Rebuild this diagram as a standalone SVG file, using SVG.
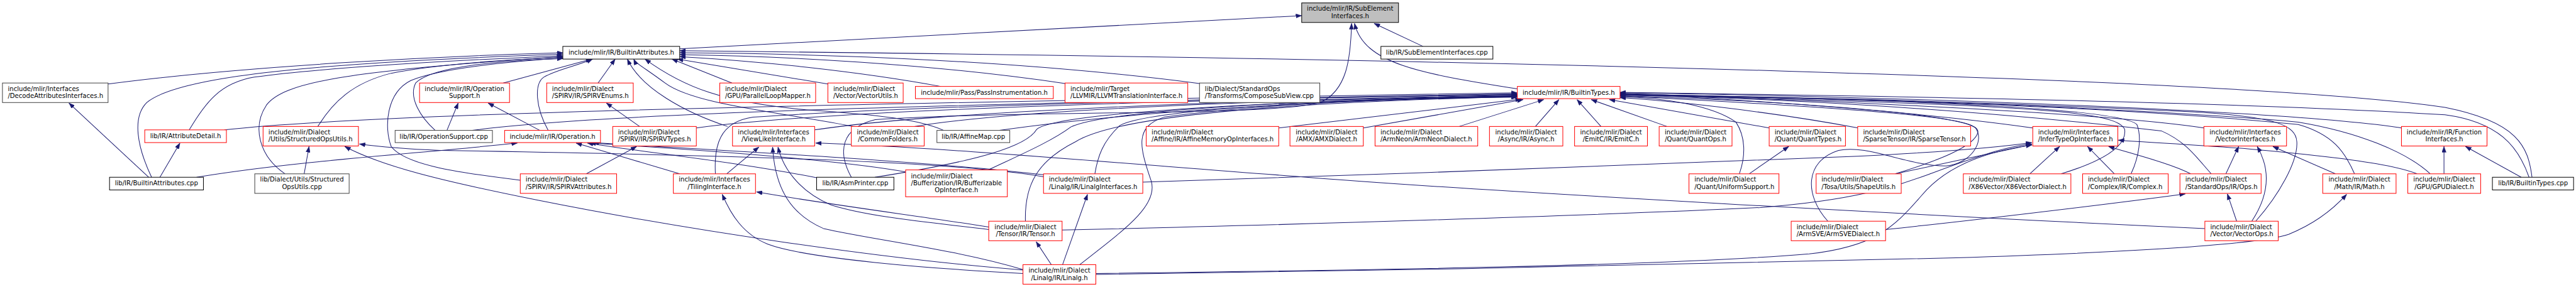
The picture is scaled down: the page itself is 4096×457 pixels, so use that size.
<svg xmlns="http://www.w3.org/2000/svg" width="4096" height="457" viewBox="0 0 4096 457">
<style>
.r{fill:#fff;stroke:#ff0000;stroke-width:1.3}
.b{fill:#fff;stroke:#000;stroke-width:1.3}
.g{fill:#fff;stroke:#404040;stroke-width:1.3}
.gr{fill:#bfbfbf;stroke:#000;stroke-width:1.3}
text{font-family:"DejaVu Sans","Liberation Sans",sans-serif;font-size:13px;fill:#000}
.c{text-anchor:middle}
#edges path{fill:none;stroke:#191970;stroke-width:1.3;marker-end:url(#a)}
</style>
<defs>
<marker id="a" viewBox="0 0 12 9" refX="12" refY="4.5" markerWidth="12" markerHeight="9" orient="auto" markerUnits="userSpaceOnUse"><path d="M0,0 L12,4.5 L0,9 z" fill="#191970" stroke="#191970" stroke-width="0.5"/></marker>
</defs>
<rect width="4096" height="457" fill="#fff"/>
<g transform="scale(0.77753)">
<g id="edges">
<path d="M1390,100 L2662,32"/>
<path d="M3103,182 C2900,150 2790,130 2770,48"/>
<path d="M2910,95 L2810,48"/>
<path d="M1741,363 C1712,310 1720,262 1790,245 C2100,225 2600,238 2700,210 C2755,185 2762,120 2764,48"/>
<path d="M221,172 C500,135 900,115 1151,108"/>
<path d="M310,363 C280,300 270,240 300,210 C360,160 600,130 1151,111"/>
<path d="M387,266 C420,210 450,170 520,158 C650,140 900,125 1151,114"/>
<path d="M583,356 C530,320 515,260 545,215 C580,170 700,145 1151,116"/>
<path d="M650,259 C680,210 720,170 800,150 C900,130 1050,122 1151,117"/>
<path d="M1064,369 C950,355 830,340 800,300 C785,260 790,190 840,165 C900,140 1050,125 1151,119"/>
<path d="M890,267 C860,240 835,200 850,170 C880,140 1000,125 1151,120"/>
<path d="M1029,170 L1210,121"/>
<path d="M1121,267 C1095,220 1092,172 1112,158 C1140,142 1180,135 1212,121"/>
<path d="M1223,170 L1258,121"/>
<path d="M1488,259 C1400,230 1310,180 1283,121"/>
<path d="M1745,259 C1600,230 1420,215 1360,170 C1320,140 1300,130 1296,121"/>
<path d="M1930,267 C1880,245 1800,235 1650,225 C1480,210 1400,180 1319,121"/>
<path d="M1497,170 L1374,121"/>
<path d="M1693,172 L1385,121"/>
<path d="M1924,177 C1750,145 1550,125 1390,116"/>
<path d="M2178,171 C1900,130 1600,115 1390,112"/>
<path d="M2453,171 C2100,125 1700,110 1390,108"/>
<path d="M5178,363 C5170,300 5150,250 5000,220 C4600,160 3000,120 1390,104"/>
<path d="M459,266 C700,240 1200,220 3103,190"/>
<path d="M966,267 C1200,235 1800,215 3103,192"/>
<path d="M1424,262 C1700,225 2400,205 3103,193"/>
<path d="M1463,356 C1460,300 1470,250 1540,240 C1900,215 2600,200 3103,194"/>
<path d="M1666,266 C1900,230 2500,205 3103,195"/>
<path d="M1870,259 C2100,222 2600,205 3103,196"/>
<path d="M2044,267 C2300,230 2700,205 3103,196"/>
<path d="M1789,363 C2000,330 2100,300 2120,265 C2150,235 2500,210 3103,197"/>
<path d="M2021,348 C2080,320 2150,290 2190,260 C2250,230 2600,205 3103,197"/>
<path d="M2097,453 C2095,380 2120,330 2200,290 C2280,240 2600,210 3103,198"/>
<path d="M2239,356 C2245,320 2255,290 2290,257 C2350,225 2700,205 3103,198"/>
<path d="M2208,542 C2300,470 2370,420 2354,370 C2330,300 2320,260 2380,240 C2600,210 2900,200 3103,199"/>
<path d="M2615,262 L3111,203"/>
<path d="M2788,262 L3115,204"/>
<path d="M2984,259 L3157,204"/>
<path d="M3140,259 L3188,204"/>
<path d="M3274,259 L3225,204"/>
<path d="M3409,259 L3254,204"/>
<path d="M3618,262 L3291,204"/>
<path d="M3800,262 C3600,225 3400,205 3313,200"/>
<path d="M4157,262 C3900,225 3500,200 3313,192"/>
<path d="M4507,262 C4300,230 3700,205 3313,191"/>
<path d="M4911,262 C4700,230 4000,200 3313,190"/>
<path d="M5172,363 C5150,300 5110,250 5000,235 C4500,205 3700,195 3313,189"/>
<path d="M4970,356 C4920,310 4820,270 4700,250 C4300,215 3700,200 3313,193"/>
<path d="M4815,356 C4795,310 4770,275 4700,255 C4300,215 3700,200 3313,194"/>
<path d="M4522,356 C4490,320 4470,290 4420,268 C4000,220 3600,200 3313,195"/>
<path d="M4613,453 C4660,400 4700,330 4697,290 C4695,255 4650,240 4500,230 C4000,205 3600,198 3313,193"/>
<path d="M4215,356 C4300,330 4350,300 4345,265 C4330,230 4200,215 3313,194"/>
<path d="M4358,356 C4375,320 4380,280 4370,255 C4340,225 4000,205 3313,194"/>
<path d="M3876,356 C3960,330 4040,300 4045,270 C4045,245 3950,230 3313,196"/>
<path d="M3557,356 C3570,320 3570,280 3550,250 C3500,215 3400,200 3313,198"/>
<path d="M3738,453 C3690,400 3690,330 3760,308 C3820,295 3900,340 3980,340 C4030,335 4060,290 4040,262 C4000,230 3600,205 3313,196"/>
<path d="M304,363 L141,211"/>
<path d="M327,363 L368,293"/>
<path d="M402,363 C600,330 850,315 1058,293"/>
<path d="M622,356 L632,300"/>
<path d="M2134,362 C1950,330 1500,318 900,308 C820,305 770,300 735,295"/>
<path d="M2092,553 C1800,530 1400,470 1100,410 C900,370 780,340 705,300"/>
<path d="M914,267 L937,211"/>
<path d="M1104,267 L998,211"/>
<path d="M1308,259 L1240,211"/>
<path d="M1199,356 L1302,300"/>
<path d="M1390,356 L1178,293"/>
<path d="M1670,364 C1500,330 1300,310 1201,293"/>
<path d="M2134,358 C1900,330 1500,310 1213,292"/>
<path d="M1852,352 C1700,325 1400,305 1206,293"/>
<path d="M1486,356 L1552,301"/>
<path d="M2092,552 C1950,510 1780,490 1684,468 C1620,440 1585,390 1580,301"/>
<path d="M2022,470 C1900,455 1780,445 1700,420 C1630,390 1600,340 1591,301"/>
<path d="M4509,468 C4000,445 3000,390 2660,362 C2300,335 1900,300 1668,293"/>
<path d="M2022,465 C1900,445 1700,420 1547,393"/>
<path d="M2092,560 C1900,550 1650,530 1570,500 C1520,480 1495,440 1477,398"/>
<path d="M2150,542 L2119,495"/>
<path d="M2173,542 L2224,398"/>
<path d="M2337,373 C2800,360 3500,330 3800,320 C4000,310 4100,300 4155,292"/>
<path d="M2172,471 C2600,462 3300,440 3600,425 C3800,410 3880,380 3950,355 C4030,325 4100,300 4155,295"/>
<path d="M2241,560 C2800,553 3400,545 3700,520 C3830,505 3870,470 3930,400 C3980,340 4060,310 4155,297"/>
<path d="M3876,356 L4155,296"/>
<path d="M4151,356 L4212,300"/>
<path d="M4324,356 L4269,300"/>
<path d="M4480,356 C4440,335 4360,315 4312,300"/>
<path d="M4943,356 C4880,330 4700,315 4600,305 C4500,297 4400,292 4332,287"/>
<path d="M2241,562 C2800,556 3500,540 4000,528 C4400,515 4620,500 4680,480 C4730,460 4770,430 4799,398"/>
<path d="M4552,356 L4578,300"/>
<path d="M4605,453 C4640,400 4645,350 4616,300"/>
<path d="M4776,356 L4648,300"/>
<path d="M3856,470 C4000,455 4300,420 4469,397"/>
<path d="M4574,453 L4555,397"/>
<path d="M4998,356 L4998,300"/>
<path d="M5156,363 L5042,300"/>
<path d="M3577,356 L3658,300"/>
</g>
<g id="sub"><rect class="gr" x="2662" y="6" width="198" height="40"/><text class="c" x="2761" y="22">include/mlir/IR/SubElement</text><text class="c" x="2761" y="37">Interfaces.h</text></g>
<g id="ba"><rect class="b" x="1151" y="95" width="239" height="26"/><text class="c" x="1270.5" y="112">include/mlir/IR/BuiltinAttributes.h</text></g>
<g id="subcpp"><rect class="b" x="2824" y="95" width="229" height="26"/><text class="c" x="2938.5" y="112">lib/IR/SubElementInterfaces.cpp</text></g>
<g id="decode"><rect class="g" x="5" y="170" width="216" height="40"/><text x="16" y="186">include/mlir/Interfaces</text><text x="16" y="201">/DecodeAttributesInterfaces.h</text></g>
<g id="opsuph"><rect class="r" x="858" y="170" width="184" height="40"/><text class="c" x="950" y="186">include/mlir/IR/Operation</text><text class="c" x="950" y="201">Support.h</text></g>
<g id="spirvenums"><rect class="r" x="1118" y="170" width="177" height="40"/><text x="1129" y="186">include/mlir/Dialect</text><text x="1129" y="201">/SPIRV/IR/SPIRVEnums.h</text></g>
<g id="plm"><rect class="r" x="1472" y="170" width="196" height="40"/><text x="1483" y="186">include/mlir/Dialect</text><text x="1483" y="201">/GPU/ParallelLoopMapper.h</text></g>
<g id="vecutils"><rect class="r" x="1693" y="170" width="154" height="40"/><text x="1704" y="186">include/mlir/Dialect</text><text x="1704" y="201">/Vector/VectorUtils.h</text></g>
<g id="passinst"><rect class="r" x="1872" y="177" width="282" height="25"/><text class="c" x="2013" y="194">include/mlir/Pass/PassInstrumentation.h</text></g>
<g id="llvmti"><rect class="r" x="2178" y="170" width="251" height="40"/><text x="2189" y="186">include/mlir/Target</text><text x="2189" y="201">/LLVMIR/LLVMTranslationInterface.h</text></g>
<g id="compose"><rect class="g" x="2453" y="170" width="246" height="40"/><text x="2464" y="186">lib/Dialect/StandardOps</text><text x="2464" y="201">/Transforms/ComposeSubView.cpp</text></g>
<g id="bt"><rect class="r" x="3103" y="177" width="210" height="25"/><text class="c" x="3208" y="194">include/mlir/IR/BuiltinTypes.h</text></g>
<g id="attrdetail"><rect class="r" x="296" y="266" width="167" height="26"/><text class="c" x="379.5" y="283">lib/IR/AttributeDetail.h</text></g>
<g id="souh"><rect class="r" x="538" y="259" width="195" height="40"/><text x="549" y="275">include/mlir/Dialect</text><text x="549" y="290">/Utils/StructuredOpsUtils.h</text></g>
<g id="opsupcpp"><rect class="g" x="808" y="267" width="199" height="25"/><text class="c" x="907.5" y="284">lib/IR/OperationSupport.cpp</text></g>
<g id="operation"><rect class="r" x="1032" y="267" width="196" height="25"/><text class="c" x="1130" y="284">include/mlir/IR/Operation.h</text></g>
<g id="spirvtypes"><rect class="r" x="1253" y="259" width="171" height="40"/><text x="1264" y="275">include/mlir/Dialect</text><text x="1264" y="290">/SPIRV/IR/SPIRVTypes.h</text></g>
<g id="viewlike"><rect class="r" x="1498" y="259" width="168" height="40"/><text class="c" x="1582" y="275">include/mlir/Interfaces</text><text class="c" x="1582" y="290">/ViewLikeInterface.h</text></g>
<g id="commonfolders"><rect class="r" x="1741" y="259" width="149" height="40"/><text class="c" x="1815.5" y="275">include/mlir/Dialect</text><text class="c" x="1815.5" y="290">/CommonFolders.h</text></g>
<g id="affinemapcpp"><rect class="g" x="1916" y="267" width="149" height="25"/><text class="c" x="1990.5" y="284">lib/IR/AffineMap.cpp</text></g>
<g id="affmemop"><rect class="r" x="2344" y="259" width="271" height="40"/><text x="2355" y="275">include/mlir/Dialect</text><text x="2355" y="290">/Affine/IR/AffineMemoryOpInterfaces.h</text></g>
<g id="amx"><rect class="r" x="2638" y="259" width="150" height="40"/><text class="c" x="2713" y="275">include/mlir/Dialect</text><text class="c" x="2713" y="290">/AMX/AMXDialect.h</text></g>
<g id="armneon"><rect class="r" x="2812" y="259" width="210" height="40"/><text x="2823" y="275">include/mlir/Dialect</text><text x="2823" y="290">/ArmNeon/ArmNeonDialect.h</text></g>
<g id="async"><rect class="r" x="3046" y="259" width="150" height="40"/><text class="c" x="3121" y="275">include/mlir/Dialect</text><text class="c" x="3121" y="290">/Async/IR/Async.h</text></g>
<g id="emitc"><rect class="r" x="3220" y="259" width="149" height="40"/><text class="c" x="3294.5" y="275">include/mlir/Dialect</text><text class="c" x="3294.5" y="290">/EmitC/IR/EmitC.h</text></g>
<g id="quantops"><rect class="r" x="3393" y="259" width="149" height="40"/><text class="c" x="3467.5" y="275">include/mlir/Dialect</text><text class="c" x="3467.5" y="290">/Quant/QuantOps.h</text></g>
<g id="quanttypes"><rect class="r" x="3618" y="259" width="156" height="40"/><text x="3629" y="275">include/mlir/Dialect</text><text x="3629" y="290">/Quant/QuantTypes.h</text></g>
<g id="sparse"><rect class="r" x="3799" y="259" width="231" height="40"/><text x="3810" y="275">include/mlir/Dialect</text><text x="3810" y="290">/SparseTensor/IR/SparseTensor.h</text></g>
<g id="infer"><rect class="r" x="4157" y="259" width="174" height="40"/><text x="4168" y="275">include/mlir/Interfaces</text><text x="4168" y="290">/InferTypeOpInterface.h</text></g>
<g id="vecif"><rect class="r" x="4507" y="259" width="169" height="40"/><text class="c" x="4591.5" y="275">include/mlir/Interfaces</text><text class="c" x="4591.5" y="290">/VectorInterfaces.h</text></g>
<g id="funcif"><rect class="r" x="4911" y="259" width="175" height="40"/><text class="c" x="4998.5" y="275">include/mlir/IR/Function</text><text class="c" x="4998.5" y="290">Interfaces.h</text></g>
<g id="bacpp"><rect class="b" x="224" y="363" width="192" height="26"/><text class="c" x="320" y="380">lib/IR/BuiltinAttributes.cpp</text></g>
<g id="soucpp"><rect class="g" x="521" y="356" width="193" height="40"/><text class="c" x="617.5" y="372">lib/Dialect/Utils/Structured</text><text class="c" x="617.5" y="387">OpsUtils.cpp</text></g>
<g id="spirvattr"><rect class="r" x="1064" y="356" width="197" height="40"/><text x="1075" y="372">include/mlir/Dialect</text><text x="1075" y="387">/SPIRV/IR/SPIRVAttributes.h</text></g>
<g id="tiling"><rect class="r" x="1377" y="356" width="168" height="40"/><text class="c" x="1461" y="372">include/mlir/Interfaces</text><text class="c" x="1461" y="387">/TilingInterface.h</text></g>
<g id="asmprinter"><rect class="b" x="1670" y="363" width="158" height="26"/><text class="c" x="1749" y="380">lib/IR/AsmPrinter.cpp</text></g>
<g id="buff"><rect class="r" x="1852" y="348" width="208" height="55"/><text x="1863" y="365">include/mlir/Dialect</text><text x="1863" y="379.5">/Bufferization/IR/Bufferizable</text><text class="c" x="1956" y="394">OpInterface.h</text></g>
<g id="linalgif"><rect class="r" x="2134" y="356" width="203" height="40"/><text x="2145" y="372">include/mlir/Dialect</text><text x="2145" y="387">/Linalg/IR/LinalgInterfaces.h</text></g>
<g id="uniform"><rect class="r" x="3454" y="356" width="184" height="40"/><text x="3465" y="372">include/mlir/Dialect</text><text x="3465" y="387">/Quant/UniformSupport.h</text></g>
<g id="shape"><rect class="r" x="3714" y="356" width="174" height="40"/><text x="3725" y="372">include/mlir/Dialect</text><text x="3725" y="387">/Tosa/Utils/ShapeUtils.h</text></g>
<g id="x86"><rect class="r" x="4015" y="356" width="220" height="40"/><text x="4026" y="372">include/mlir/Dialect</text><text x="4026" y="387">/X86Vector/X86VectorDialect.h</text></g>
<g id="complex"><rect class="r" x="4259" y="356" width="175" height="40"/><text x="4270" y="372">include/mlir/Dialect</text><text x="4270" y="387">/Complex/IR/Complex.h</text></g>
<g id="stdops"><rect class="r" x="4458" y="356" width="166" height="40"/><text x="4469" y="372">include/mlir/Dialect</text><text x="4469" y="387">/StandardOps/IR/Ops.h</text></g>
<g id="math"><rect class="r" x="4750" y="356" width="150" height="40"/><text class="c" x="4825" y="372">include/mlir/Dialect</text><text class="c" x="4825" y="387">/Math/IR/Math.h</text></g>
<g id="gpu"><rect class="r" x="4924" y="356" width="149" height="40"/><text class="c" x="4998.5" y="372">include/mlir/Dialect</text><text class="c" x="4998.5" y="387">/GPU/GPUDialect.h</text></g>
<g id="btcpp"><rect class="b" x="5097" y="363" width="166" height="26"/><text class="c" x="5180" y="380">lib/IR/BuiltinTypes.cpp</text></g>
<g id="tensor"><rect class="r" x="2022" y="453" width="150" height="40"/><text class="c" x="2097" y="469">include/mlir/Dialect</text><text class="c" x="2097" y="484">/Tensor/IR/Tensor.h</text></g>
<g id="armsve"><rect class="r" x="3663" y="453" width="193" height="40"/><text x="3674" y="469">include/mlir/Dialect</text><text x="3674" y="484">/ArmSVE/ArmSVEDialect.h</text></g>
<g id="vecops"><rect class="r" x="4509" y="453" width="150" height="40"/><text x="4520" y="469">include/mlir/Dialect</text><text x="4520" y="484">/Vector/VectorOps.h</text></g>
<g id="linalg"><rect class="r" x="2092" y="542" width="149" height="40"/><text class="c" x="2166.5" y="558">include/mlir/Dialect</text><text class="c" x="2166.5" y="573">/Linalg/IR/Linalg.h</text></g>
</g>
</svg>
